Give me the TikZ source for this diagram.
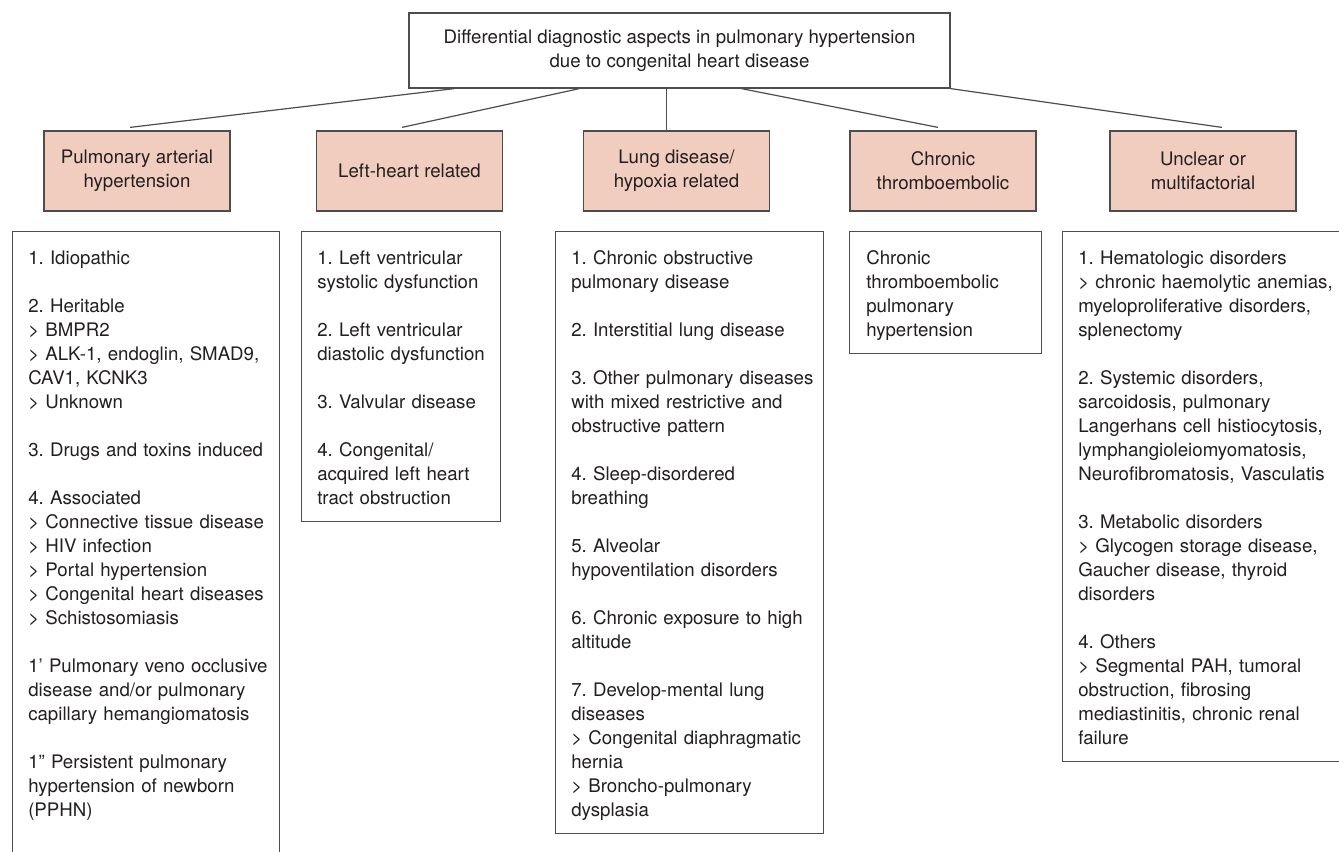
\documentclass[tikz,border=0pt]{standalone}
\usepackage{fontspec}
\setmainfont{TeX Gyre Heros}
\usetikzlibrary{calc}
\definecolor{pinkfill}{RGB}{240,205,191}
\definecolor{edge}{RGB}{77,77,77}
\definecolor{ink}{RGB}{35,31,32}
\newcommand\gapline{\\[18pt]}
\frenchspacing
\begin{document}
\frenchspacing
\begin{tikzpicture}[x=0.75pt,y=-0.75pt,
  every node/.style={font=\fontsize{14}{18}\selectfont\frenchspacing, text=ink},
  titlebox/.style={draw=edge, line width=0.9pt, fill=white, minimum width=405.75pt, minimum height=56.25pt, align=center, inner sep=0pt},
  catbox/.style={draw=edge, line width=0.9pt, fill=pinkfill, minimum width=139.5pt, minimum height=60pt, align=center, inner sep=0pt},
  listbox/.style={draw=edge, line width=0.9pt, anchor=north west, inner sep=0pt},
  listtext/.style={anchor=north west, inner sep=0pt, text width=300pt, align=left},
  link/.style={draw=edge, line width=0.9pt}
]
\useasboundingbox (0,0) rectangle (1339,852);
\fill[white] (0,0) rectangle (1339,852);
\clip (0,0) rectangle (1339,852);

% title
\node[titlebox] (title) at (679.5,50.5) {Differential diagnostic aspects in pulmonary hypertension\\due to congenital heart disease};

% categories
\node[catbox] (p1) at (137,171) {Pulmonary arterial\\hypertension};
\node[catbox] (p2) at (409.5,171) {Left-heart related};
\node[catbox] (p3) at (676.5,171) {Lung disease/\\hypoxia related};
\node[catbox] (p4) at (943,171) {Chronic\\thromboembolic};
\node[catbox] (p5) at (1203,171) {Unclear or\\multifactorial};

% connectors
\coordinate (t1) at ($(title.south west)+(46,0)$);
\coordinate (t2) at ($(title.south west)+(171,0)$);
\coordinate (t3) at ($(title.south west)+(258,0)$);
\coordinate (t4) at ($(title.south west)+(333,0)$);
\coordinate (t5) at (title.south east);
\coordinate (e1) at ($(p1.north)+(-7,-3)$);
\coordinate (e2) at ($(p2.north)+(-7.5,-3)$);
\coordinate (e4) at ($(p4.north)+(-5,-3)$);
\coordinate (e5) at ($(p5.north)+(19,-3)$);
\draw[link] (t1) -- (e1);
\draw[link] (t2) -- (e2);
\draw[link] (t3) -- (t3 |- p3.north);
\draw[link] (t4) -- (e4);
\draw[link] (t5) -- (e5);

% list boxes
\node[listbox, minimum width=200.25pt, minimum height=471.75pt] (b1) at (12,231) {};
\node[listbox, minimum width=149.25pt, minimum height=217.5pt] (b2) at (301,231) {};
\node[listbox, minimum width=201pt, minimum height=451.5pt] (b3) at (555,231) {};
\node[listbox, minimum width=144pt, minimum height=91.5pt] (b4) at (849,231) {};
\node[listbox, minimum width=212.25pt, minimum height=397.5pt] (b5) at (1062,231) {};

\node[listtext] (l1) at ($(b1.north west)+(16,16.2)$) {\strut 1. Idiopathic\gapline
2. Heritable\\
> BMPR2\\
> ALK-1, endoglin, SMAD9,\\
CAV1, KCNK3\\
> Unknown\gapline
3. Drugs and toxins induced\gapline
4. Associated\\
> Connective tissue disease\\
> HIV infection\\
> Portal hypertension\\
> Congenital heart diseases\\
> Schistosomiasis\gapline
1’ Pulmonary veno occlusive\\
disease and/or pulmonary\\
capillary hemangiomatosis\gapline
1” Persistent pulmonary\\
hypertension of newborn\\
(PPHN)};

\node[listtext] (l2) at ($(b2.north west)+(16,16.2)$) {\strut 1. Left ventricular\\
systolic dysfunction\gapline
2. Left ventricular\\
diastolic dysfunction\gapline
3. Valvular disease\gapline
4. Congenital/\\
acquired left heart\\
tract obstruction};

\node[listtext] (l3) at ($(b3.north west)+(16,16.2)$) {\strut 1. Chronic obstructive\\
pulmonary disease\gapline
2. Interstitial lung disease\gapline
3. Other pulmonary diseases\\
with mixed restrictive and\\
obstructive pattern\gapline
4. Sleep-disordered\\
breathing\gapline
5. Alveolar\\
hypoventilation disorders\gapline
6. Chronic exposure to high\\
altitude\gapline
7. Develop-mental lung\\
diseases\\
> Congenital diaphragmatic\\
hernia\\
> Broncho-pulmonary\\
dysplasia};

\node[listtext] (l4) at ($(b4.north west)+(17,16.2)$) {\strut Chronic\\
thromboembolic\\
pulmonary\\
hypertension};

\node[listtext] (l5) at ($(b5.north west)+(16,16.2)$) {\strut 1. Hematologic disorders\\
> chronic haemolytic anemias,\\
myeloproliferative disorders,\\
splenectomy\gapline
2. Systemic disorders,\\
sarcoidosis, pulmonary\\
Langerhans cell histiocytosis,\\
lymphangioleiomyomatosis,\\
Neurofibromatosis, Vasculatis\gapline
3. Metabolic disorders\\
> Glycogen storage disease,\\
Gaucher disease, thyroid\\
disorders\gapline
4. Others\\
> Segmental PAH, tumoral\\
obstruction, fibrosing\\
mediastinitis, chronic renal\\
failure};
\end{tikzpicture}
\end{document}
